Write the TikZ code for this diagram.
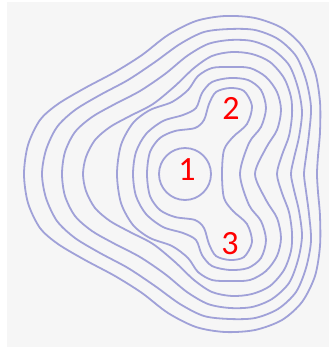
\documentclass[tikz,border=0pt]{standalone}
\usepackage{fontspec}
\usepackage{xcolor}
\usepackage{tikz}
\newfontfamily\sitefont{Carlito}
\definecolor{LevelBlue}{HTML}{A0A1D8}
\definecolor{SiteRed}{HTML}{FF0000}
\definecolor{PaperGray}{HTML}{F6F6F6}
\tikzset{
  levelline/.style={draw=LevelBlue, line width=1.8pt},
  sitelabel/.style={text=SiteRed, font=\sitefont\fontsize{34}{34}\selectfont, inner sep=0pt},
}
% closed level line, mirrored about y = 174: #1 left end, #2 right end, #3 upper points
\newcommand\levelloop[3]{%
  \gdef\uplist{}\gdef\lowlist{}%
  \foreach \px/\py in {#3}{%
    \pgfmathsetmacro\qy{348-\py}%
    \xdef\uplist{\uplist (\px,\py)}%
    \xdef\lowlist{(\px,\qy) \lowlist}%
  }%
  \draw[levelline] plot[smooth cycle] coordinates {(#1,174) \uplist (#2,174) \lowlist};
}

\begin{document}
\begin{tikzpicture}[x=1pt, y=-1pt]
  \useasboundingbox (0,0) rectangle (334,349);
  \fill[white] (0,0) rectangle (334,349);
  \fill[PaperGray] (7,2) rectangle (329,347);

  % outer level lines
  \levelloop{24}{317}{28/145,40/120,58/104,85/88,115/72,142/55,168/35,196/21,225/16,255/18,282/28,302/46,315/72,320/102,320/132,318/156}
  \levelloop{42}{304}{46/150,57/127,75/110,100/95,128/80,155/62,180/44,204/32,230/29,255/30,278/39,296/56,306/80,311/107,309/134,306/157}
  \levelloop{62}{291}{65/152,75/132,92/117,115/104,140/91,165/74,187/56,208/44,230/40,252/41,272/49,289/65,298/88,302/112,299/137,294/158}
  \levelloop{83}{277}{86/157,95/140,110/127,130/116,153/104,175/86,194/68,212/56,232/52,252/54,270/62,284/78,291/97,292/115,289/136,282/155}
  % inner level lines
  \levelloop{117}{255}{121/145,133/123,150/110,172/102,188/90,198/76,212/68,230/67,250/68,266/77,277/92,281/110,277/130,266/148}
  \levelloop{133}{240}{136/152,146/134,163/121,183/115,196/108,202/93,212/82,230/78,248/80,261/90,266/108,261/127,249/143}
  \levelloop{147}{222}{150/152,160/138,175/131,195/128,204/120,209/104,216/92,230/88,244/91,252/106,247/124,233/137,224/150}
  \draw[levelline] (185,174) circle[radius=26pt];

  \node[sitelabel] (site1) at (187,170) {1};
  \node[sitelabel] (site2) at (231,108) {2};
  \node[sitelabel] (site3) at (230,244) {3};
\end{tikzpicture}
\end{document}
